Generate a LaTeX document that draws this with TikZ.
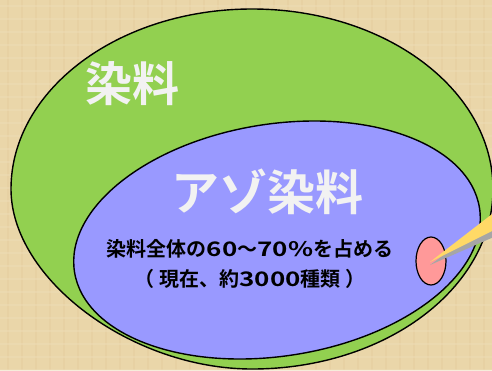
\documentclass[tikz,border=0pt]{standalone}
\usepackage{fontspec}
\usepackage{graphicx}
\newfontfamily\jpb{Noto Sans CJK JP Bold}
\definecolor{bgtan}{HTML}{EAD6A9}
\definecolor{dyegreen}{HTML}{92D050}
\definecolor{azoblue}{HTML}{9999FF}
\definecolor{spotpink}{HTML}{FF9999}
\definecolor{callyellow}{HTML}{FFD966}
\newcommand{\widedigits}[1]{\scalebox{1.3}[1]{#1}}
\tikzset{
  setline/.style={draw=black, line width=1.4pt},
  title/.style={text=white!95!black, inner sep=0pt},
  body/.style={text=black, font=\jpb\fontsize{20}{24}\selectfont, inner sep=0pt},
}
\begin{document}
\begin{tikzpicture}[x=1pt,y=-1pt]
\useasboundingbox (0,0) rectangle (492,370);
\fill[bgtan] (0,0) rectangle (492,370);
\begin{scope}
\clip (0,0) rectangle (492,370);
% faint parchment texture
\foreach \i in {8,22,...,492} {\draw[bgtan!80!brown, opacity=0.25, line width=1.5pt] (\i,0) -- (\i,370);}
\foreach \j in {6,19,...,370} {\draw[bgtan!85!white, opacity=0.5, line width=1.2pt] (0,\j) -- (492,\j);}
% outer set: dyes
\path[fill=dyegreen, setline]
  (252,9) .. controls (385.1,9) and (493,89.6) .. (493,189)
  .. controls (493,288.4) and (385.1,369) .. (252,369)
  .. controls (131.5,369) and (11,279) .. (11,189)
  .. controls (11,89.6) and (118.9,9) .. (252,9) -- cycle;
% inner set: azo dyes
\path[fill=azoblue, setline] (277,240) ellipse [x radius=205, y radius=116, rotate=9];
% small spot and callout
\path[fill=spotpink, setline, line width=1.2pt] (431,261) ellipse [x radius=15, y radius=24];
\fill[gray!70] (430,265) -- (496,217) -- (496,236) -- cycle;
\fill[callyellow] (430,262) -- (496,211) -- (496,229) -- cycle;
\end{scope}
\node[title, font=\jpb\fontsize{47}{50}\selectfont] (dye) at (132,84) {染料};
\node[title, font=\jpb\fontsize{48}{52}\selectfont] (azo) at (267,192) {アゾ染料};
\node[body] (share) at (250,249) {染料全体の\widedigits{60}～\widedigits{70}\scalebox{1.3}[1]{\%}を占める};
\node[body] (count) at (250,279) {（ 現在、約\widedigits{3000}種類 ）};
\end{tikzpicture}
\end{document}
